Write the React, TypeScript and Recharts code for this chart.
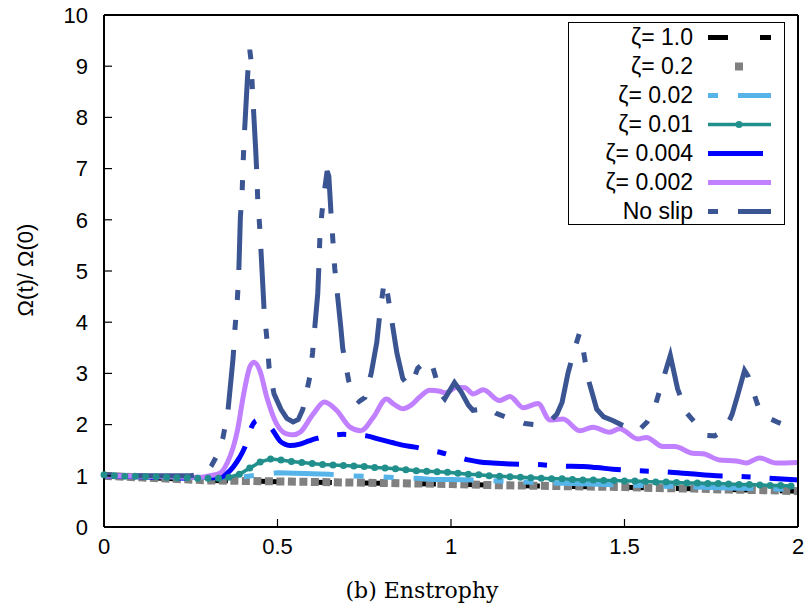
import React from "react";
import { LineChart, Line, XAxis, YAxis, Legend } from "recharts";

const xTicks = [0, 0.5, 1, 1.5, 2];
const yTicks = [0, 1, 2, 3, 4, 5, 6, 7, 8, 9, 10];

// zeta = 1.0 and zeta = 0.2 (coarse grid)
const coarseT = [0, 0.1, 0.2, 0.3, 0.4, 0.5, 0.6, 0.7, 0.8, 0.9, 1.0, 1.1, 1.2, 1.3, 1.4, 1.5, 1.6, 1.7, 1.8, 1.9, 2.0];
const zeta1V = [1.0, 0.97, 0.94, 0.91, 0.9, 0.885, 0.875, 0.865, 0.855, 0.845, 0.835, 0.82, 0.805, 0.795, 0.785, 0.775, 0.76, 0.745, 0.73, 0.715, 0.7];
const zeta02V = [1.0, 0.97, 0.94, 0.91, 0.9, 0.89, 0.88, 0.87, 0.86, 0.85, 0.84, 0.82, 0.81, 0.8, 0.79, 0.78, 0.76, 0.75, 0.73, 0.72, 0.7];

const zeta002T = [0, 0.1, 0.2, 0.3, 0.35, 0.4, 0.45, 0.5, 0.55, 0.6, 0.65, 0.7, 0.75, 0.8, 0.85, 0.9, 0.95, 1.0, 1.1, 1.2, 1.3, 1.4, 1.5, 1.6, 1.7, 1.8, 1.9, 2.0];
const zeta002V = [1.0, 0.99, 0.98, 0.96, 0.97, 0.98, 1.02, 1.06, 1.05, 1.04, 1.03, 1.0, 0.99, 0.98, 0.96, 0.95, 0.93, 0.93, 0.91, 0.88, 0.86, 0.84, 0.82, 0.8, 0.78, 0.76, 0.75, 0.73];

const zeta001T = [
  0, 0.03, 0.06, 0.09, 0.12, 0.15, 0.18, 0.21, 0.24, 0.27, 0.3, 0.33, 0.36, 0.39, 0.42, 0.45, 0.48, 0.51, 0.54, 0.57,
  0.6, 0.63, 0.66, 0.69, 0.72, 0.75, 0.78, 0.81, 0.84, 0.87, 0.9, 0.93, 0.96, 0.99, 1.02, 1.05, 1.08, 1.11, 1.14, 1.17,
  1.2, 1.23, 1.26, 1.29, 1.32, 1.35, 1.38, 1.41, 1.44, 1.47, 1.5, 1.53, 1.56, 1.59, 1.62, 1.65, 1.68, 1.71, 1.74, 1.77,
  1.8, 1.83, 1.86, 1.89, 1.92, 1.95, 1.98,
];
const zeta001V = [
  1.02, 1.0, 0.99, 0.99, 0.98, 0.98, 0.97, 0.96, 0.96, 0.95, 0.95, 0.95, 0.97, 1.03, 1.15, 1.27, 1.33, 1.31, 1.28, 1.26,
  1.24, 1.22, 1.21, 1.2, 1.19, 1.18, 1.16, 1.15, 1.14, 1.12, 1.1, 1.09, 1.08, 1.07, 1.05, 1.03, 1.02, 1.0, 0.99, 0.98,
  0.97, 0.96, 0.95, 0.94, 0.94, 0.93, 0.92, 0.92, 0.91, 0.91, 0.9, 0.9, 0.89, 0.88, 0.88, 0.87, 0.86, 0.86, 0.85, 0.85,
  0.84, 0.83, 0.83, 0.82, 0.81, 0.81, 0.8,
];

const zeta0004T = [
  0, 0.1, 0.2, 0.276, 0.334, 0.355, 0.372, 0.39, 0.406, 0.425, 0.44, 0.455, 0.47, 0.483, 0.507, 0.52, 0.536, 0.565,
  0.59, 0.613, 0.65, 0.689, 0.72, 0.757, 0.795, 0.83, 0.86, 0.896, 0.93, 0.968, 1.0, 1.025, 1.05, 1.083, 1.12, 1.174,
  1.246, 1.313, 1.38, 1.42, 1.467, 1.534, 1.611, 1.69, 1.764, 1.831, 1.904, 2.0,
];
const zeta0004V = [
  1.0, 0.98, 0.96, 0.95, 0.97, 1.05, 1.17, 1.35, 1.56, 1.95, 2.08, 2.05, 2.0, 1.92, 1.68, 1.62, 1.59, 1.62,
  1.68, 1.73, 1.78, 1.81, 1.8, 1.78, 1.71, 1.65, 1.6, 1.56, 1.51, 1.46, 1.4, 1.36, 1.31, 1.27, 1.25, 1.23,
  1.22, 1.19, 1.18, 1.16, 1.13, 1.1, 1.08, 1.04, 1.0, 0.99, 0.96, 0.92,
];

const zeta0002T = [
  0, 0.1, 0.2, 0.25, 0.28, 0.305, 0.334, 0.355, 0.372, 0.385, 0.401, 0.42, 0.432, 0.449, 0.469, 0.497, 0.526, 0.545,
  0.565, 0.603, 0.635, 0.67, 0.709, 0.74, 0.776, 0.814, 0.833, 0.862, 0.885, 0.91, 0.939, 0.968, 0.985, 1.016, 1.04,
  1.064, 1.093, 1.14, 1.17, 1.208, 1.251, 1.285, 1.323, 1.371, 1.409, 1.457, 1.486, 1.539, 1.563, 1.611, 1.645, 1.697,
  1.726, 1.774, 1.822, 1.851, 1.889, 1.937, 2.0,
];
const zeta0002V = [
  1.0, 0.99, 0.98, 0.97, 0.97, 1.0, 1.05, 1.25, 1.55, 1.9, 2.54, 3.12, 3.22, 3.06, 2.54, 2.02, 1.82, 1.8,
  1.85, 2.21, 2.44, 2.28, 1.95, 1.88, 2.14, 2.5, 2.41, 2.31, 2.38, 2.54, 2.67, 2.65, 2.62, 2.73, 2.72,
  2.6, 2.68, 2.47, 2.55, 2.33, 2.41, 2.09, 2.11, 1.88, 1.95, 1.85, 1.92, 1.72, 1.75, 1.57, 1.57, 1.44,
  1.43, 1.31, 1.29, 1.25, 1.35, 1.25, 1.26,
];

const noSlipT = [
  0, 0.05, 0.1, 0.15, 0.2, 0.25, 0.28, 0.3, 0.31, 0.33, 0.343, 0.357, 0.372, 0.377, 0.384, 0.388, 0.393, 0.398, 0.401,
  0.404, 0.413, 0.417, 0.42, 0.424, 0.428, 0.437, 0.44, 0.443, 0.449, 0.458, 0.461, 0.469, 0.476, 0.49, 0.51, 0.527,
  0.545, 0.56, 0.573, 0.593, 0.601, 0.616, 0.619, 0.622, 0.628, 0.636, 0.643, 0.648, 0.654, 0.66, 0.665, 0.682, 0.688,
  0.705, 0.72, 0.735, 0.752, 0.77, 0.786, 0.795, 0.806, 0.81, 0.818, 0.844, 0.861, 0.878, 0.89, 0.904, 0.925, 0.942,
  0.955, 0.97, 0.982, 0.995, 1.01, 1.03, 1.05, 1.063, 1.085, 1.106, 1.13, 1.16, 1.19, 1.213, 1.24, 1.265, 1.29, 1.305,
  1.32, 1.337, 1.355, 1.37, 1.38, 1.395, 1.42, 1.44, 1.466, 1.49, 1.515, 1.54, 1.565, 1.586, 1.61, 1.632, 1.653, 1.678,
  1.71, 1.736, 1.76, 1.79, 1.81, 1.826, 1.846, 1.856, 1.889, 1.918, 1.94, 1.966, 1.99, 2.0,
];
const noSlipV = [
  1.02, 1.01, 1.0, 1.0, 1.0, 1.0, 1.04, 1.1, 1.2, 1.45, 1.75, 2.25, 3.3, 3.84, 4.42, 4.87, 6.05, 6.53, 7.12,
  7.6, 8.72, 9.15, 9.32, 9.1, 8.5, 7.39, 6.96, 6.4, 5.83, 4.68, 4.28, 3.7, 3.1, 2.6, 2.3, 2.12,
  2.05, 2.1, 2.3, 2.93, 3.4, 4.56, 5.05, 5.63, 6.14, 6.6, 6.95, 6.85, 6.15, 5.56, 5.05, 3.93, 3.49,
  2.86, 2.55, 2.45, 2.53, 3.0, 3.6, 4.17, 4.72, 4.8, 4.52, 3.4, 2.9, 2.75, 2.85, 3.1, 3.22, 3.25,
  2.95, 2.6, 2.5, 2.65, 2.82, 2.63, 2.38, 2.28, 2.3, 2.33, 2.22, 2.14, 2.08, 2.02, 2.0, 2.07, 2.1, 2.2,
  2.43, 3.0, 3.45, 3.78, 3.5, 2.9, 2.3, 2.15, 2.08, 2.0, 1.94, 1.88, 2.05, 2.31, 2.86, 3.35, 2.7, 2.24,
  1.98, 1.79, 1.78, 1.9, 2.2, 2.57, 3.06, 2.95, 2.28, 2.12, 2.05, 1.98, 1.9, 1.88,
];

const pts = (t: number[], v: number[]) => t.map((x, i) => ({ t: x, v: v[i] }));

const SERIES = [
  { name: "ζ= 1.0", data: pts(coarseT, zeta1V), color: "#000000", width: 5, dash: "20 32", legend: "dash" },
  { name: "ζ= 0.2", data: pts(coarseT, zeta02V), color: "#808080", width: 8, dash: "8 3.5", legend: "square" },
  { name: "ζ= 0.02", data: pts(zeta002T, zeta002V), color: "#56B4E9", width: 5, dash: "10 20 60 20 10 20", legend: "dash" },
  { name: "ζ= 0.01", data: pts(zeta001T, zeta001V), color: "#21908C", width: 3.5, dash: undefined, legend: "dot" },
  { name: "ζ= 0.004", data: pts(zeta0004T, zeta0004V), color: "#0000FF", width: 5, dash: "55 19 9 19", legend: "dash" },
  { name: "ζ= 0.002", data: pts(zeta0002T, zeta0002V), color: "#C080FF", width: 5, dash: undefined, legend: "dash" },
  { name: "No slip", data: pts(noSlipT, noSlipV), color: "#3B5593", width: 5, dash: "10 20 60 20 10 20", legend: "dash" },
];

const FONT = "'Liberation Sans', Arial, sans-serif";

function LegendBox() {
  return (
    <div
      style={{
        width: 217,
        height: 203,
        boxSizing: "border-box",
        border: "1px solid #000",
        background: "#fff",
        fontFamily: FONT,
        color: "#000",
      }}
    >
      {SERIES.map((s) => (
        <div key={s.name} style={{ display: "flex", alignItems: "center", height: 29 }}>
          <span style={{ width: 124, textAlign: "right", fontSize: 23, lineHeight: "29px", whiteSpace: "nowrap" }}>
            {s.name}
          </span>
          <svg width={90} height={29}>
            {s.legend === "square" ? (
              <rect x={42} y={10.5} width={8} height={8} fill={s.color} />
            ) : (
              <line
                x1={15}
                x2={78}
                y1={14.5}
                y2={14.5}
                stroke={s.color}
                strokeWidth={s.width}
                strokeDasharray={s.name === "ζ= 0.004" ? "55 30" : s.dash === "8 3.5" ? undefined : s.dash}
              />
            )}
            {s.legend === "dot" && <circle cx={46} cy={14.5} r={3.5} fill={s.color} />}
          </svg>
        </div>
      ))}
    </div>
  );
}

export default function App() {
  const axisLine = { stroke: "#000", strokeWidth: 2 };
  const tickLine = { stroke: "#000", strokeWidth: 1.2 };
  return (
    <div style={{ position: "absolute", left: 0, top: 0, width: 804, height: 616, background: "#fff", fontFamily: FONT }}>
      <LineChart width={804} height={616} margin={{ top: 14, right: 5, bottom: 49, left: 0 }}>
        <XAxis
          type="number"
          dataKey="t"
          domain={[0, 2]}
          ticks={xTicks}
          interval={0}
          height={40}
          tickSize={-8}
          tickMargin={19}
          axisLine={axisLine}
          tickLine={tickLine}
          tick={{ fill: "#000", fontSize: 22, fontFamily: FONT }}
          tickFormatter={(v) => String(v)}
          label={{
            content: () => (
              <text x={422} y={598} textAnchor="middle" fontFamily="'DejaVu Serif', serif" fontSize={22} fill="#000">
                (b) Enstrophy
              </text>
            ),
          }}
        />
        <XAxis
          xAxisId="top"
          orientation="top"
          type="number"
          dataKey="t"
          domain={[0, 2]}
          ticks={xTicks}
          interval={0}
          height={1}
          tickSize={-8}
          axisLine={axisLine}
          tickLine={tickLine}
          tick={false}
        />
        <YAxis
          type="number"
          domain={[0, 10]}
          ticks={yTicks}
          interval={0}
          width={104}
          tickSize={-8}
          tickMargin={24}
          axisLine={axisLine}
          tickLine={tickLine}
          tick={{ fill: "#000", fontSize: 22, fontFamily: FONT }}
          label={{
            content: () => (
              <text
                x={25}
                y={270}
                transform="rotate(-90 25 270)"
                textAnchor="middle"
                dominantBaseline="central"
                fontFamily={FONT}
                fontSize={22}
                fill="#000"
              >
                Ω(t)/ Ω(0)
              </text>
            ),
          }}
        />
        <YAxis
          yAxisId="r"
          orientation="right"
          type="number"
          domain={[0, 10]}
          ticks={yTicks}
          interval={0}
          width={1}
          tickSize={-8}
          axisLine={axisLine}
          tickLine={tickLine}
          tick={false}
        />
        {SERIES.map((s) => (
          <Line
            key={s.name}
            data={s.data}
            dataKey="v"
            name={s.name}
            type={s.name === "ζ= 0.002" || s.name === "ζ= 0.004" ? "monotone" : "linear"}
            stroke={s.color}
            strokeWidth={s.width}
            strokeDasharray={s.dash}
            dot={s.legend === "dot" ? { r: 3.5, fill: s.color, stroke: s.color, strokeWidth: 0 } : false}
            activeDot={false}
            isAnimationActive={false}
          />
        ))}
        <Legend
          layout="vertical"
          align="center"
          verticalAlign="middle"
          wrapperStyle={{ left: 568, top: 22, width: 217, height: 203 }}
          content={() => <LegendBox />}
        />
      </LineChart>
    </div>
  );
}
